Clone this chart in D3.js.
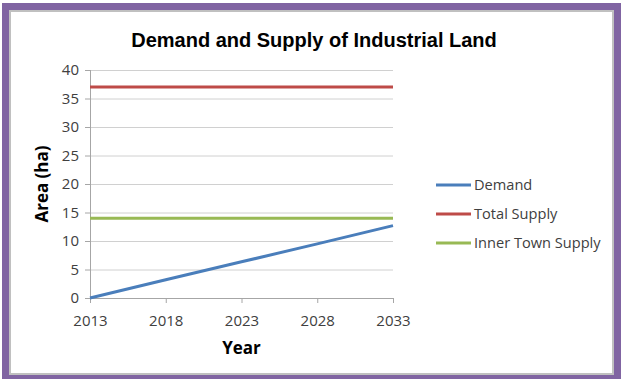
<!DOCTYPE html>
<html>
<head>
<meta charset="utf-8">
<script src="https://cdn.jsdelivr.net/npm/d3@7"></script>
<style>
  body { margin: 0; background: #fff; }
  svg { display: block; }
  .tick text { font-family: 'Open Sans', sans-serif; font-size: 15px; fill: #404040; }
  .title { font-family: 'Liberation Sans', Arial, sans-serif; font-weight: bold; font-size: 20px; fill: #000; }
  .axis-label { font-family: 'Open Sans', sans-serif; font-weight: bold; font-size: 17px; fill: #000; }
  .legend text { font-family: 'Open Sans', sans-serif; font-size: 14.6px; fill: #404040; }
</style>
</head>
<body>
<svg width="621" height="379"></svg>
<script>
(function (d3) {
  'use strict';

  const years = [2013, 2018, 2023, 2028, 2033];
  const yTicks = [0, 5, 10, 15, 20, 25, 30, 35, 40];
  const seriesNames = ['Demand', 'Total Supply', 'Inner Town Supply'];
  const demand = [0, 3.2, 6.35, 9.5, 12.7];
  const totalSupply = [37, 37, 37, 37, 37];
  const innerTownSupply = [14, 14, 14, 14, 14];
  const colors = ['#4a7ebb', '#be4b48', '#98b954'];

  const svg = d3.select('svg');
  const width = +svg.attr('width');
  const height = +svg.attr('height');

  // frame
  svg.append('rect')
    .attr('x', 5.5).attr('y', 6.5)
    .attr('width', width - 9).attr('height', height - 8)
    .attr('fill', 'none').attr('stroke', '#8064a2').attr('stroke-width', 7);
  svg.append('rect')
    .attr('x', 10).attr('y', 11)
    .attr('width', width - 18).attr('height', height - 16)
    .attr('fill', 'none').attr('stroke', '#c0c0c0').attr('stroke-width', 2);

  const margin = { top: 70, left: 90, right: 228, bottom: 81 };
  const innerWidth = width - margin.left - margin.right;
  const innerHeight = height - margin.top - margin.bottom;

  const xScale = d3.scalePoint()
    .domain(years)
    .range([0, innerWidth]);

  const yScale = d3.scaleLinear()
    .domain([0, 40])
    .range([innerHeight, 0]);

  const g = svg.append('g')
    .attr('transform', `translate(${margin.left},${margin.top})`);

  // gridlines
  g.append('g')
    .selectAll('line')
    .data(yTicks.filter(d => d > 0))
    .join('line')
      .attr('x1', 0).attr('x2', innerWidth)
      .attr('y1', d => yScale(d) + 0.5).attr('y2', d => yScale(d) + 0.5)
      .attr('stroke', '#d0d0d0');

  const yAxis = d3.axisLeft(yScale)
    .tickValues(yTicks)
    .tickSize(5)
    .tickPadding(6);

  const yAxisG = g.append('g').call(yAxis);
  yAxisG.selectAll('line, .domain').attr('stroke', '#a6a6a6');
  yAxisG.select('.domain').attr('d', `M0.5,0V${innerHeight}`);

  const xAxis = d3.axisBottom(xScale)
    .tickSize(5)
    .tickPadding(12);

  const xAxisG = g.append('g').call(xAxis)
    .attr('transform', `translate(0,${innerHeight})`);
  xAxisG.selectAll('line, .domain').attr('stroke', '#a6a6a6');
  xAxisG.select('.domain').attr('d', `M0,0.5H${innerWidth}`);

  g.append('text')
    .attr('class', 'axis-label')
    .attr('x', innerWidth / 2)
    .attr('y', innerHeight + 56)
    .attr('text-anchor', 'middle')
    .text('Year');

  g.append('text')
    .attr('class', 'axis-label')
    .attr('transform', 'rotate(-90)')
    .attr('x', -innerHeight / 2 + 0)
    .attr('y', -42)
    .attr('text-anchor', 'middle')
    .text('Area (ha)');

  // lines
  const series = [demand, totalSupply, innerTownSupply];
  const lineGenerator = d3.line()
    .x((d, i) => xScale(years[i]))
    .y(d => yScale(d));

  g.selectAll('.line-path')
    .data(series)
    .join('path')
      .attr('class', 'line-path')
      .attr('d', d => lineGenerator(d))
      .attr('fill', 'none')
      .attr('stroke', (d, i) => colors[i])
      .attr('stroke-width', 3);

  svg.append('text')
    .attr('class', 'title')
    .attr('x', 314)
    .attr('y', 47)
    .attr('text-anchor', 'middle')
    .text('Demand and Supply of Industrial Land');

  // legend
  const legend = svg.append('g')
    .attr('class', 'legend')
    .attr('transform', 'translate(436,185)');

  const item = legend.selectAll('g')
    .data(seriesNames)
    .join('g')
      .attr('transform', (d, i) => `translate(0,${i * 29})`);

  item.append('line')
    .attr('x1', 0).attr('x2', 35)
    .attr('stroke', (d, i) => colors[i])
    .attr('stroke-width', 3);

  item.append('text')
    .attr('x', 38)
    .attr('dy', '0.35em')
    .text(d => d);

}(d3));
</script>
</body>
</html>
